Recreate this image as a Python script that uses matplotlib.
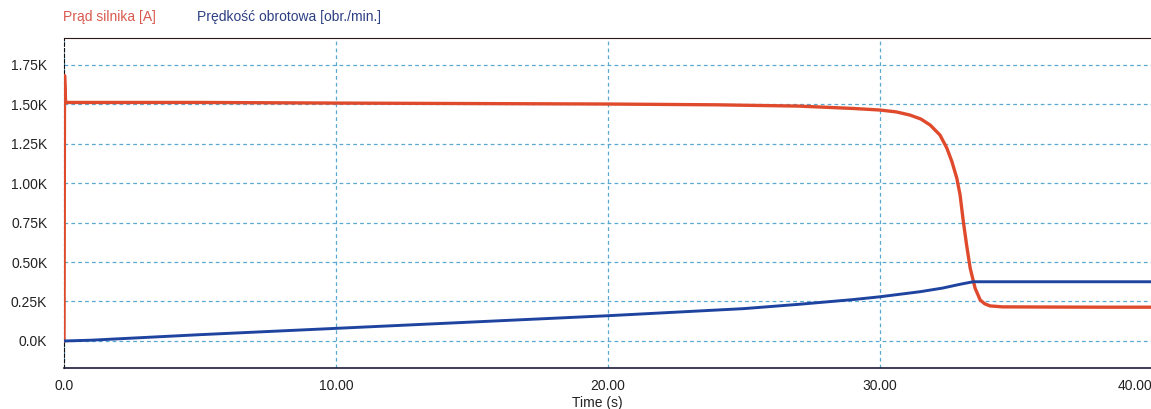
import matplotlib
matplotlib.use("Agg")
import matplotlib.pyplot as plt

plt.rcParams['font.family'] = ['Liberation Sans', 'DejaVu Sans']

# prąd silnika [A] (odczyt z wykresu)
t_prad = [0.0, 0.02, 0.06, 0.3, 5.0, 10.0, 15.0, 20.0, 24.0, 27.0, 29.0, 30.0,
          30.6, 31.1, 31.5, 31.84, 32.2, 32.45, 32.64, 32.82, 32.94, 33.06,
          33.18, 33.31, 33.49, 33.68, 33.85, 34.04, 34.5, 36.0, 38.0, 40.0]
prad = [0, 1680, 1510, 1510, 1510, 1506, 1503, 1500, 1495, 1487, 1472, 1462,
        1450, 1430, 1405, 1367, 1304, 1222, 1135, 1030, 924, 755,
        607, 462, 335, 259, 235, 222, 216, 215, 214, 214]

# prędkość obrotowa [obr./min.]
t_pred = [0.0, 1.0, 5.0, 10.0, 15.0, 20.0, 25.0, 27.0, 29.0, 30.0, 31.47, 32.3,
          32.94, 33.42, 40.0]
predkosc = [0, 5, 40, 80, 120, 160, 205, 232, 262, 280, 312, 335, 359, 375, 375]

x_ticks = [0, 10, 20, 30, 40]
x_labels = ['0.0', '10.00', '20.00', '30.00', '40.00']
y_ticks = [0, 250, 500, 750, 1000, 1250, 1500, 1750]
y_labels = ['0.0K', '0.25K', '0.50K', '0.75K', '1.00K', '1.25K', '1.50K', '1.75K']

fig = plt.figure(figsize=(11.51, 4.09), dpi=100)
ax = fig.add_axes([64 / 1151, 41 / 409, 1 - 64 / 1151 + 0.001, 330 / 409])

ax.plot(t_prad, prad, color='#e04a2c', lw=2.4, solid_joinstyle='round', zorder=3)
ax.plot(t_pred, predkosc, color='#1f44a0', lw=2.1, solid_joinstyle='round', zorder=4)

ax.set_xlim(0, 40)
ax.set_ylim(-171, 1918)
ax.set_xticks(x_ticks)
ax.set_xticklabels(x_labels)
ax.set_yticks(y_ticks)
ax.set_yticklabels(y_labels)
ax.tick_params(length=0, labelsize=10, colors='#222222')
ax.tick_params(axis='y', pad=12)
ax.tick_params(axis='x', pad=8)
# ostatnia etykieta przy krawędzi - dosunięta do środka
ax.get_xticklabels()[-1].set_horizontalalignment('right')

ax.grid(True, color='#5aa8d0', ls=(0, (3, 2.5)), lw=0.9)
ax.spines['right'].set_visible(False)
ax.spines['left'].set_linestyle((0, (3, 2)))
ax.spines['left'].set_color('#111111')
ax.spines['top'].set_color('#2a1a1a')
ax.spines['bottom'].set_color('#1a1a3a')
ax.spines['bottom'].set_linewidth(1.2)

fig.text(63 / 1151, 1 - 17 / 409, 'Prąd silnika [A]', color='#d8584e',
         fontsize=10, va='center', ha='left')
fig.text(197 / 1151, 1 - 17 / 409, 'Prędkość obrotowa [obr./min.]', color='#2c3f82',
         fontsize=10, va='center', ha='left')
fig.text(597 / 1151, 6 / 409, 'Time (s)', color='#222222', fontsize=10,
         va='center', ha='center')

fig.savefig('out.png', dpi=100)
